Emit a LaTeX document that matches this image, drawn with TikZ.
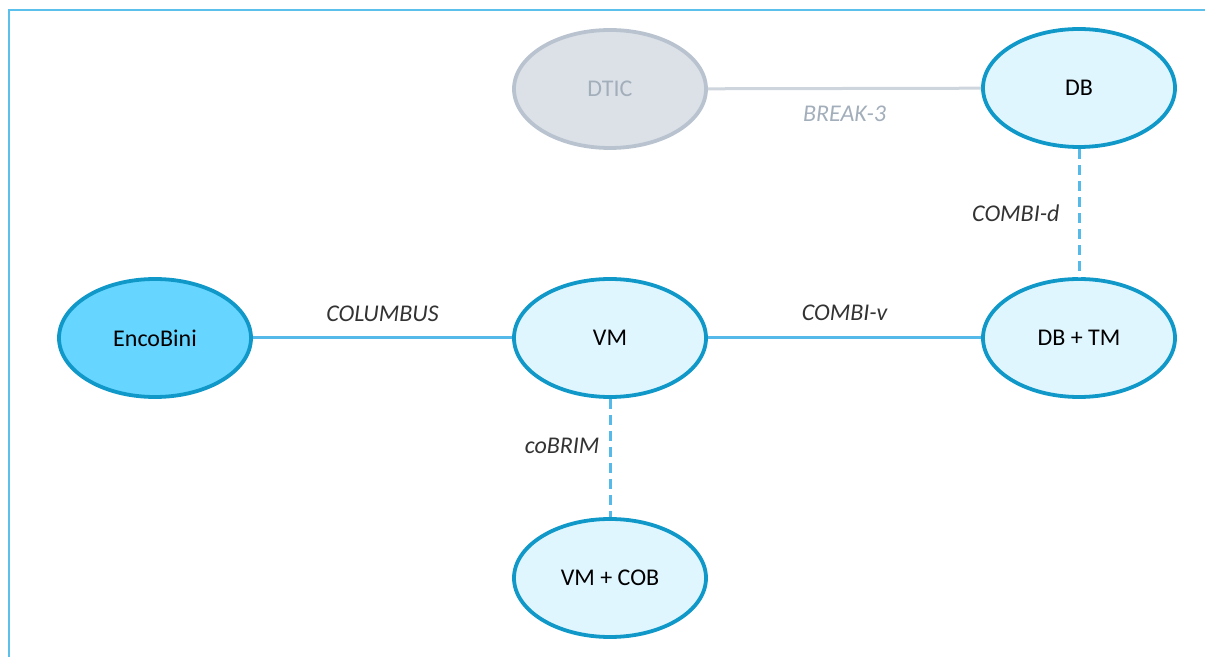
\documentclass[tikz,border=0pt]{standalone}
\usepackage{fontspec}
\setmainfont{Carlito}
\usetikzlibrary{shapes.geometric}

\definecolor{frameblue}{HTML}{5BC0EB}
\definecolor{linkblue}{HTML}{55B9E9}
\definecolor{nodeline}{HTML}{0F98C8}
\definecolor{nodefill}{HTML}{E0F6FF}
\definecolor{rootfill}{HTML}{66D5FF}
\definecolor{oldfill}{HTML}{DCE1E8}
\definecolor{oldline}{HTML}{B9C3CF}
\definecolor{oldtext}{HTML}{A3AEBB}
\definecolor{labeltext}{HTML}{333333}

\begin{document}
\begin{tikzpicture}[
  x=0.5pt, y=-0.5pt,
  project/.style={ellipse, draw=nodeline, fill=nodefill, line width=1.9pt,
    minimum width=96pt, minimum height=59pt, inner sep=0pt,
    font=\fontsize{12}{14}\selectfont},
  root/.style={project, fill=rootfill},
  oldproject/.style={project, draw=oldline, fill=oldfill, text=oldtext},
  link/.style={draw=linkblue, line width=1.5pt},
  followup/.style={link, dash pattern=on 5pt off 3pt},
  broken/.style={draw=oldline!70, line width=1.5pt},
  tag/.style={inner sep=0pt, text=labeltext,
    font=\fontsize{12}{14}\selectfont\itshape}
  ]
  \useasboundingbox (0,0) rectangle (1205,657);
  \draw[frameblue, line width=1.2pt] (1210,10) -- (9,10) -- (9,662);

  % projects
  \node[oldproject] (dtic)  at (610,89)  {DTIC};
  \node[project]    (db)    at (1079,88) {DB};
  \node[root]       (enco)  at (155,338) {EncoBini};
  \node[project]    (vm)    at (610,338) {VM};
  \node[project]    (dbtm)  at (1079,338) {DB + TM};
  \node[project]    (vmcob) at (610,578) {VM + COB};

  % links between them
  \draw[broken] (dtic) -- (db)
    node[midway, below=8pt, tag, text=oldtext] {BREAK-3};
  \draw[followup] (db) -- (dbtm)
    node[midway, left=9pt, tag] {COMBI-d};
  \draw[link] (enco) -- (vm)
    node[midway, above=7.5pt, tag] {COLUMBUS};
  \draw[link] (vm) -- (dbtm)
    node[midway, above=8pt, tag] {COMBI-v};
  \draw[followup] (vm) -- (vmcob)
    node[pos=0.4, left=4.5pt, tag] {coBRIM};
\end{tikzpicture}
\end{document}
